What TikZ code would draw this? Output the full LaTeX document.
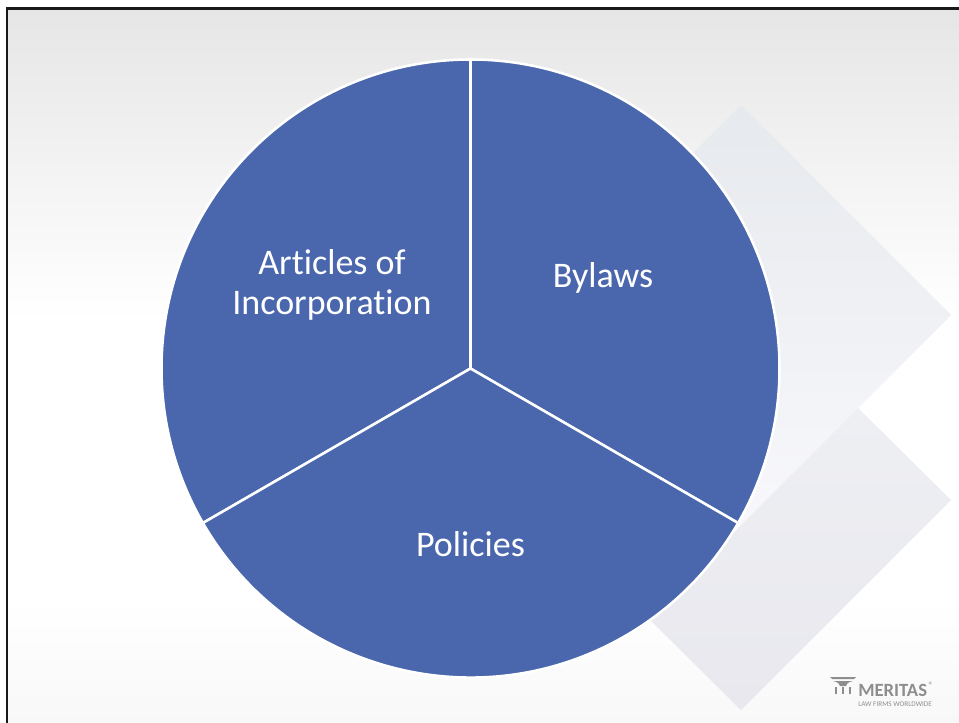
\documentclass[tikz,border=0pt]{standalone}
\usepackage{fontspec}
\usetikzlibrary{calc}
\setmainfont[Ligatures=NoCommon]{Carlito}
\definecolor{sliceblue}{HTML}{4A67AD}
\definecolor{logogray}{HTML}{8E8E8E}
\definecolor{bgtop}{HTML}{E6E6E6}
\definecolor{bgbot}{HTML}{F8F8F8}
\definecolor{upA}{HTML}{E6E9ED}
\definecolor{upB}{HTML}{F8F8FC}
\definecolor{loA}{HTML}{EEEFF3}
\definecolor{loB}{HTML}{E8E8EE}
\tikzset{
  slice/.style={fill=sliceblue,draw=white,line width=1.9pt,line join=round},
  slicelabel/.style={text=white,font=\fontsize{27}{30.5}\selectfont,align=center,inner sep=0pt},
  logobar/.style={fill=logogray,draw=none},
  x=0.75pt,y=-0.75pt
}
\begin{document}
\begin{tikzpicture}
\useasboundingbox (0,0) rectangle (959,723);
\fill[white] (0,0) rectangle (959,723);
% background
\shade[top color=bgtop,bottom color=white] (8,9) rectangle (959,320);
\shade[top color=white,bottom color=bgbot] (8,600) rectangle (959,723);
% border
\fill[black!90] (6,7) rectangle (959,9.7);
\fill[black!90] (6,7) rectangle (8.4,723);
% diamonds
\shade[top color=upA,bottom color=upB] (741,105) -- (951,315) -- (741,525) -- (531,315) -- cycle;
\shade[top color=loA,bottom color=loB] (858,408) -- (951,500) -- (741,710) -- (648,618) -- cycle;
% pie
\coordinate (c) at (470.5,368.5);
\path[slice] (c) -- ++(0,-309) arc[start angle=90,end angle=-30,radius=231.75pt] -- cycle;
\path[slice] (c) -- ++(0,-309) arc[start angle=90,end angle=210,radius=231.75pt] -- cycle;
\path[slice] (c) -- ($(c)+(-267.6,154.5)$) arc[start angle=210,end angle=330,radius=231.75pt] -- cycle;
\node[slicelabel] (articles) at (332,285) {Articles of\\Incorporation};
\node[slicelabel] (bylaws) at (603,278) {Bylaws};
\node[slicelabel] (policies) at (470.5,544) {Policies};
% logo
\fill[logobar] (830,677) -- (856,677) -- (854,679) -- (832,679) -- cycle;
\fill[logobar] (833,681) -- (853,681) .. controls (848,682) and (846,684) .. (846,686) -- (840,686) .. controls (840,684) and (838,682) .. (833,681) -- cycle;
\fill[logobar] (835,687) rectangle (837,694);
\fill[logobar] (842,687) rectangle (844,694);
\fill[logobar] (849,687) rectangle (851,694);
\node[text=logogray,font=\bfseries\fontsize{14}{15}\selectfont,inner sep=0pt,anchor=base west] (meritas) at (858,696) {MERITAS};
\node[text=logogray,font=\fontsize{7}{8}\selectfont,inner sep=0pt] (reg) at (931,685.5) {®};
\node[text=logogray,font=\fontsize{5.4}{6}\selectfont,inner sep=0pt,anchor=west] (tag) at (858,704) {LAW FIRMS WORLDWIDE};
\end{tikzpicture}
\end{document}
